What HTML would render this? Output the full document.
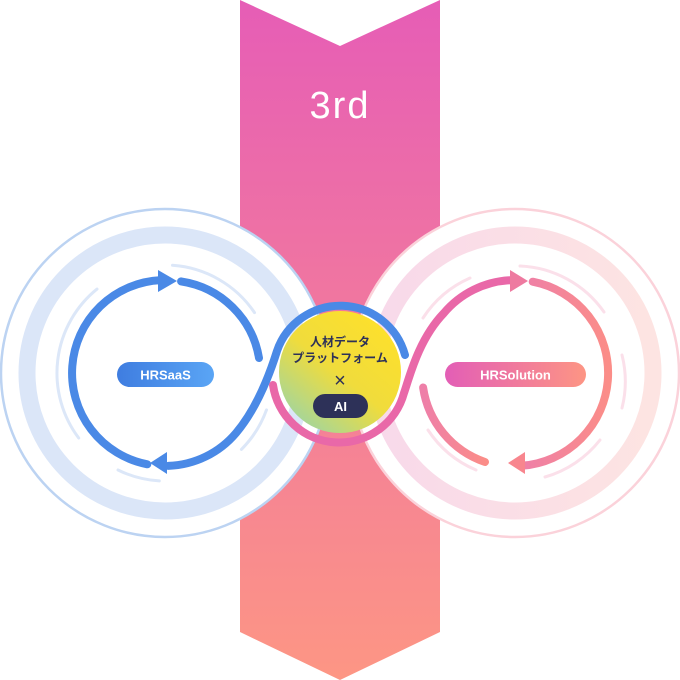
<!DOCTYPE html>
<html><head><meta charset="utf-8"><style>
html,body{margin:0;padding:0;background:#fff;}
svg{display:block;}
</style></head><body>
<svg width="680" height="680" viewBox="0 0 680 680" xmlns="http://www.w3.org/2000/svg">
<defs>
<linearGradient id="band" x1="0" y1="0" x2="0" y2="1">
<stop offset="0" stop-color="#e65db6"/><stop offset="1" stop-color="#fd9684"/></linearGradient>
<linearGradient id="lb" x1="0" y1="0" x2="1" y2="0">
<stop offset="0" stop-color="#3f7de0"/><stop offset="1" stop-color="#5aa5f5"/></linearGradient>
<linearGradient id="pk" x1="0" y1="0" x2="1" y2="0">
<stop offset="0" stop-color="#e35eb6"/><stop offset="1" stop-color="#fd9584"/></linearGradient>
<linearGradient id="pkring" x1="0" y1="0" x2="1" y2="0">
<stop offset="0" stop-color="#f8d9ea"/><stop offset="1" stop-color="#fde4e2"/></linearGradient>
<linearGradient id="pkline" x1="0" y1="0" x2="1" y2="0">
<stop offset="0" stop-color="#ee7fa8"/><stop offset="1" stop-color="#fb8d88"/></linearGradient>
<linearGradient id="yl" x1="0.85" y1="0.1" x2="0.15" y2="0.95">
<stop offset="0" stop-color="#fde02c"/><stop offset="0.5" stop-color="#f0dc3c"/><stop offset="1" stop-color="#9fd5a2"/></linearGradient>
</defs>
<polygon points="240,0 340,46 440,0 440,632 340,680 240,632" fill="url(#band)"/>
<text x="340" y="118" text-anchor="middle" font-family="Liberation Sans, sans-serif" font-size="38" fill="#fff" font-weight="300" letter-spacing="2">3rd</text>

<!-- left circle -->
<circle cx="165" cy="373" r="164" fill="#fff" stroke="#bcd3f2" stroke-width="2.5"/>
<circle cx="165" cy="373" r="138" fill="none" stroke="#dbe6f8" stroke-width="17"/>
<g fill="none" stroke="#dce7f8" stroke-width="3" stroke-linecap="round">
<path d="M172.5,265.3 A108,108 0 0 1 254.5,312.6"/>
<path d="M97,289.1 A108,108 0 0 0 78.7,438"/>
<path d="M266.5,409.9 A108,108 0 0 1 241.4,449.4"/>
<path d="M159.3,480.9 A108,108 0 0 1 118,470"/>
</g>
<!-- right circle -->
<circle cx="515" cy="373" r="164" fill="#fff" stroke="#fbd2da" stroke-width="2.5"/>
<circle cx="515" cy="373" r="138" fill="none" stroke="url(#pkring)" stroke-width="17"/>
<g fill="none" stroke="#fbe0ea" stroke-width="3" stroke-linecap="round">
<path d="M520,266 A108,108 0 0 1 604,312"/>
<path d="M622,355 A108,108 0 0 1 622,408"/>
<path d="M423,318 A108,108 0 0 1 470,278"/>
<path d="M428,430 A108,108 0 0 0 476,470"/>
<path d="M545,477 A108,108 0 0 0 600,440"/>
</g>

<!-- center circle -->
<circle cx="340" cy="372" r="61" fill="url(#yl)"/>

<!-- blue loop -->
<g fill="none" stroke="#4a89e6" stroke-width="8" stroke-linecap="round">
<path d="M147.3,464.3 A93,93 0 0 1 161,280.1"/>
<path d="M181.1,281.4 A93,93 0 0 1 259,358"/>
<path d="M168.2,465.9 A93,93 0 0 0 236.2,432.8 C252,414 266,386 277,351 A67,67 0 0 1 405,355"/>
</g>
<polygon points="177,281 158,270 158,292" fill="#4a89e6"/>
<polygon points="150,463 167,452 167,474" fill="#4a89e6"/>

<!-- pink loop -->
<g fill="none" stroke="url(#pkline)" stroke-width="8" stroke-linecap="round">
<path d="M423.1,387.5 A93,93 0 0 0 485,462"/>
<path d="M532.7,281.7 A93,93 0 0 1 521.5,465.8"/>
</g>
<path d="M273,385 A67,67 0 0 0 404,393 C409,379 418,340 443.8,313.2 A93,93 0 0 1 510,280.2" fill="none" stroke="#e968a8" stroke-width="8" stroke-linecap="round"/>
<polygon points="528,281 510,270 510,292" fill="#ee7aa0"/>
<polygon points="508,463 525,452 525,474" fill="#f8868e"/>

<!-- labels -->
<rect x="117" y="362" width="97" height="25" rx="12.5" fill="url(#lb)"/>
<text x="165.5" y="379.5" text-anchor="middle" font-family="Liberation Sans, sans-serif" font-weight="bold" font-size="13" fill="#fff">HRSaaS</text>
<rect x="445" y="362" width="141" height="25" rx="12.5" fill="url(#pk)"/>
<text x="515.5" y="379.5" text-anchor="middle" font-family="Liberation Sans, sans-serif" font-weight="bold" font-size="13" fill="#fff">HRSolution</text>

<g font-family="Liberation Sans, 'Noto Sans CJK JP', sans-serif" font-weight="bold" fill="#2d3158" text-anchor="middle">
<text x="340" y="346" font-size="12">人材データ</text>
<text x="340" y="362" font-size="12">プラットフォーム</text>
<text x="340" y="387" font-size="20" font-weight="normal">×</text>
</g>
<rect x="313" y="394" width="55" height="24" rx="12" fill="#2d3158"/>
<text x="340.5" y="411" text-anchor="middle" font-family="Liberation Sans, sans-serif" font-weight="bold" font-size="13" fill="#fff">AI</text>
</svg>
</body></html>
